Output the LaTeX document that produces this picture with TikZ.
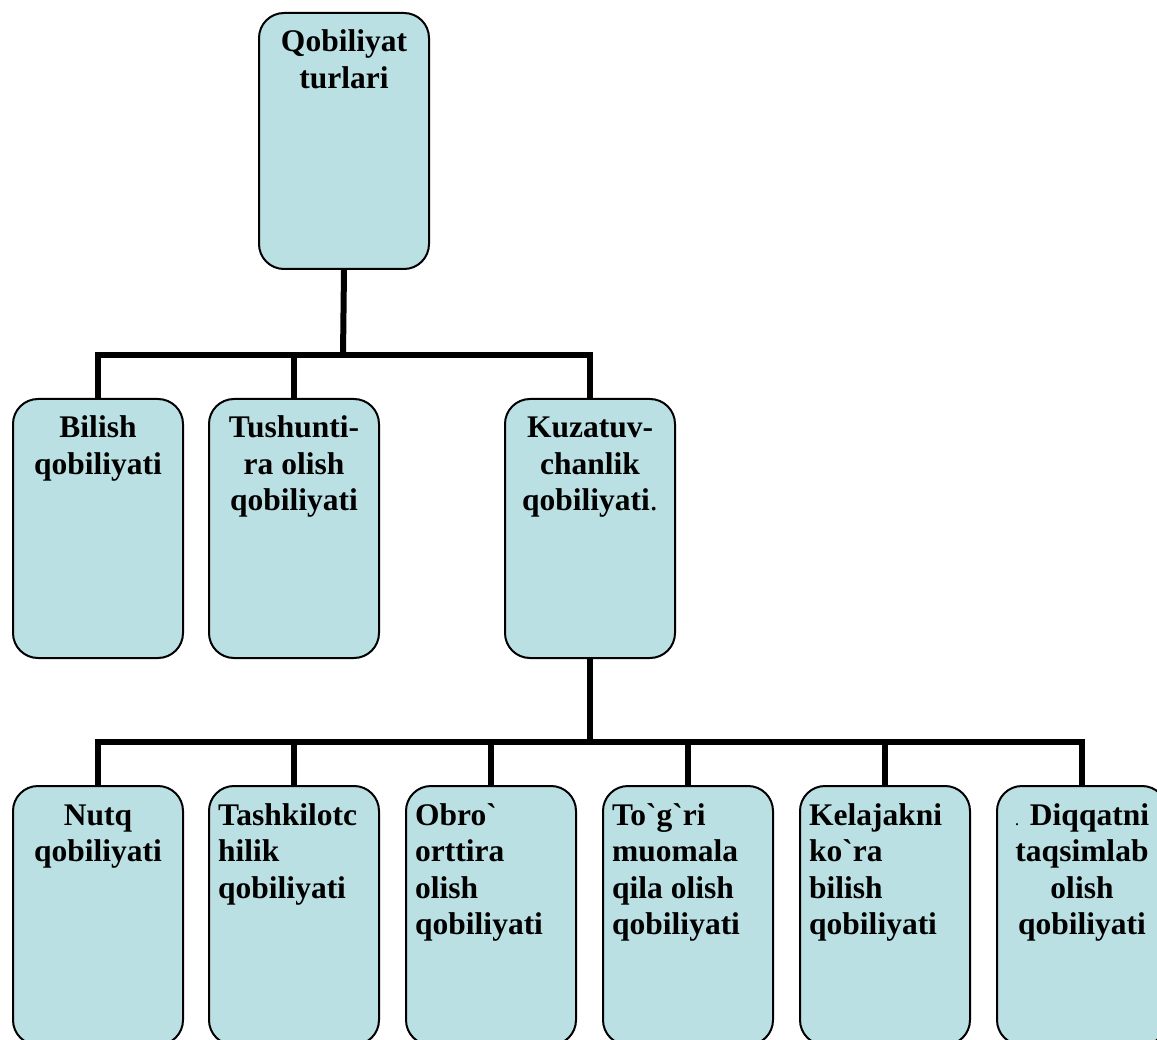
\documentclass[tikz,border=0pt]{standalone}
\usepackage{fontspec}
\newfontfamily\boxfont{Liberation Serif}
\usetikzlibrary{calc}
\definecolor{boxfill}{RGB}{187,224,227}
\tikzset{
  box/.style={draw=black, line width=2pt, fill=boxfill, rounded corners=25pt,
    minimum width=170pt, minimum height=259pt, anchor=north west, inner sep=0pt},
  conn/.style={draw=black, line width=6pt},
  txtc/.style={anchor=base, inner sep=0pt, font=\boxfont\bfseries\fontsize{31.5}{36.5}\selectfont},
  txtl/.style={anchor=base west, inner sep=0pt, font=\boxfont\bfseries\fontsize{31.5}{36.5}\selectfont},
}
\newcommand{\ctext}[1]{\parbox[t]{166pt}{\centering #1}}
\newcommand{\ltext}[1]{\parbox[t]{156pt}{\raggedright #1}}
\begin{document}
\begin{tikzpicture}[x=1pt,y=-1pt]
\useasboundingbox (0,0) rectangle (1157,1040);
\clip (0,0) rectangle (1157,1040);
% coordinates of bars
\coordinate (h1) at (343,355);
\coordinate (h2) at (588,742);
% boxes
\node[box, minimum height=256pt] (top) at (258,12) {};
\node[box] (b1) at (12,398) {};
\node[box] (b2) at (208,398) {};
\node[box] (b3) at (504,398) {};
\node[box] (n1) at (12,785) {};
\node[box] (n2) at (208,785) {};
\node[box] (n3) at (405,785) {};
\node[box] (n4) at (602,785) {};
\node[box] (n5) at (799,785) {};
\node[box] (n6) at (996,785) {};
% connectors level 1
\draw[conn] (top.south) -- (h1);
\draw[conn] (b1.north) -- (b1.north |- h1) -- (b3.north |- h1) -- (b3.north);
\draw[conn] (b2.north |- h1) -- (b2.north);
% connectors level 2
\draw[conn] (b3.south) -- (b3.south |- h2);
\draw[conn] (n1.north) -- (n1.north |- h2) -- (n6.north |- h2) -- (n6.north);
\draw[conn] (n2.north |- h2) -- (n2.north);
\draw[conn] (n3.north |- h2) -- (n3.north);
\draw[conn] (n4.north |- h2) -- (n4.north);
\draw[conn] (n5.north |- h2) -- (n5.north);
% texts
\node[txtc] (ttop) at ($(top.north)+(0,40)$) {\ctext{Qobiliyat\\turlari}};
\node[txtc] (tb1) at ($(b1.north)+(0,40)$) {\ctext{Bilish\\qobiliyati}};
\node[txtc] (tb2) at ($(b2.north)+(0,40)$) {\ctext{Tushunti-\\ra olish\\qobiliyati}};
\node[txtc] (tb3) at ($(b3.north)+(0,40)$) {\ctext{Kuzatuv-\\chanlik\\qobiliyati\textmd{.}}};
\node[txtc] (tn1) at ($(n1.north)+(0,40)$) {\ctext{Nutq\\qobiliyati}};
\node[txtl] (tn2) at ($(n2.north west)+(10,40)$) {\ltext{Tashkilotc\\hilik\\qobiliyati}};
\node[txtl] (tn3) at ($(n3.north west)+(10,40)$) {\ltext{Obro`\\orttira\\olish\\qobiliyati}};
\node[txtl] (tn4) at ($(n4.north west)+(10,40)$) {\ltext{To`g`ri\\muomala\\qila olish\\qobiliyati}};
\node[txtl] (tn5) at ($(n5.north west)+(10,40)$) {\ltext{Kelajakni\\ko`ra\\bilish\\qobiliyati}};
\node[txtc] (tn6) at ($(n6.north)+(0,40)$) {\ctext{{\mdseries\fontsize{18}{20}\selectfont .} Diqqatni\\taqsimlab\\olish\\qobiliyati}};
\end{tikzpicture}
\end{document}
